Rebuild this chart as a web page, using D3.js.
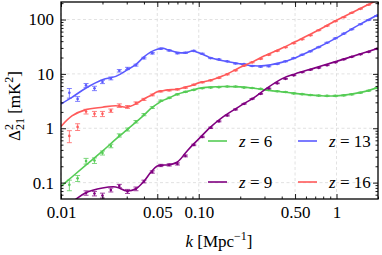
<!DOCTYPE html>
<html>
<head>
<meta charset="utf-8">
<script src="https://cdn.jsdelivr.net/npm/d3@7"></script>
<style>
  body { margin: 0; background: #fff; }
  svg { display: block; }
  text { font-family: "Liberation Serif", "Times New Roman", serif; fill: #000; }
</style>
</head>
<body>
<script>
let width = 382;
let height = 255;
let margin = {top: 2, right: 4, bottom: 56, left: 61};

// binned data points (k in Mpc^-1)
let kPoints = [0.0115, 0.0132, 0.0152, 0.0175, 0.020, 0.023, 0.0265, 0.0304, 0.035, 0.040,
               0.046, 0.053, 0.061, 0.070, 0.080, 0.092, 0.106, 0.122, 0.140, 0.161,
               0.185, 0.213, 0.244, 0.281, 0.322, 0.371, 0.426, 0.489, 0.562, 0.646,
               0.742, 0.853, 0.980, 1.13, 1.29, 1.49, 1.71, 1.96];

let z6Points = [0.091, 0.12, 0.249, 0.255, 0.352, 0.473, 0.739, 0.95, 1.32, 1.78,
                2.4, 3.2, 3.62, 4.2, 4.67, 5.08, 5.46, 5.6, 5.7, 5.85,
                5.85, 5.6, 5.5, 5.3, 5.08, 4.8, 4.64, 4.38, 4.24, 4.08,
                3.99, 3.94, 3.94, 4.03, 4.2, 4.5, 4.9, 5.5];
let z6Err = [0.02, 0.015, 0.03, 0.03, 0.03, 0.035, 0.05, 0.06, 0.07, 0.08,
             0.09, 0.1, 0.1, 0.1, 0.1, 0.1, 0.1, 0.1, 0.1, 0.1,
             0.1, 0.1, 0.1, 0.1, 0.1, 0.1, 0.1, 0.1, 0.1, 0.1,
             0.1, 0.1, 0.1, 0.1, 0.1, 0.1, 0.1, 0.1];

let z9Points = [0.03, 0.04, 0.0646, 0.063, 0.058, 0.0733, 0.087, 0.069, 0.077, 0.105,
                0.157, 0.207, 0.212, 0.221, 0.31, 0.494, 0.693, 1.02, 1.34, 1.72,
                2.22, 2.81, 3.47, 4.29, 5.42, 6.7, 8.1, 9.4, 10.7, 11.9,
                12.9, 14.4, 16.3, 18.5, 20.6, 22.9, 25.4, 28.9];
let z9Err = [0.005, 0.005, 0.006, 0.006, 0.006, 0.006, 0.006, 0.006, 0.006, 0.006,
             0.008, 0.01, 0.01, 0.01, 0.012, 0.015, 0.02, 0.03, 0.03, 0.04,
             0.05, 0.05, 0.06, 0.07, 0.08, 0.1, 0.1, 0.12, 0.12, 0.15,
             0.15, 0.2, 0.2, 0.25, 0.25, 0.3, 0.3, 0.35];

let z13Points = [4.48, 3.47, 6.15, 5.42, 7.13, 8.27, 11.4, 12.6, 14.5, 19.5,
                 24, 29, 27, 24, 24.5, 26.5, 23.5, 19.5, 18.5, 17,
                 15.5, 15.2, 14, 13.6, 13.8, 15.2, 17, 19.5, 22.5, 26,
                 31, 37.5, 45, 55, 66, 82, 98, 117];
let z13Err = [0.9, 0.35, 0.5, 0.5, 0.5, 0.5, 0.6, 0.6, 0.6, 0.7,
              0.8, 0.8, 0.7, 0.6, 0.6, 0.6, 0.5, 0.4, 0.35, 0.3,
              0.3, 0.3, 0.3, 0.3, 0.3, 0.3, 0.3, 0.35, 0.4, 0.45,
              0.5, 0.6, 0.7, 0.8, 1.0, 1.2, 1.4, 1.6];

let z16Points = [0.723, 1.06, 2.03, 1.84, 1.84, 2.11, 2.61, 2.47, 2.9, 3.4,
                 4.1, 4.8, 5.0, 5.2, 5.6, 6.3, 7.0, 7.6, 8.45, 9.8,
                 11.6, 14.1, 16.3, 18.9, 22.4, 26.5, 30.8, 36.5, 43.2, 51.2,
                 63.3, 76.5, 92.7, 110, 133, 157, 187, 221];
let z16Err = [0.18, 0.15, 0.2, 0.2, 0.2, 0.15, 0.2, 0.15, 0.15, 0.15,
              0.15, 0.15, 0.15, 0.15, 0.15, 0.15, 0.15, 0.15, 0.2, 0.2,
              0.2, 0.25, 0.3, 0.3, 0.35, 0.4, 0.4, 0.5, 0.6, 0.7,
              0.8, 1.0, 1.2, 1.4, 1.7, 2.0, 2.4, 2.8];

// model curves
let kLine = [0.01, 0.012, 0.015, 0.02, 0.025, 0.03, 0.035, 0.04, 0.045, 0.05,
             0.055, 0.06, 0.07, 0.08, 0.09, 0.1, 0.12, 0.15, 0.2, 0.25,
             0.3, 0.4, 0.5, 0.7, 1, 1.5, 2];
let z6Line = [0.085, 0.127, 0.206, 0.38, 0.63, 0.93, 1.30, 1.74, 2.32, 2.8,
              3.26, 3.55, 4.25, 4.67, 5.05, 5.41, 5.7, 5.85, 5.77, 5.46,
              5.08, 4.67, 4.38, 4.03, 3.94, 4.57, 5.6];
let z9Line = [0.035, 0.044, 0.0646, 0.0798, 0.0834, 0.0703, 0.077, 0.106, 0.157, 0.203,
              0.21, 0.212, 0.24, 0.35, 0.49, 0.637, 1.02, 1.62, 2.58, 3.62,
              5.08, 8.1, 10.0, 12.9, 17.0, 23.4, 29.5];
let z13Line = [2.8, 3.7, 5.4, 7.8, 9.0, 11.7, 15.0, 20.5, 25.4, 28.5,
               29.6, 27.7, 24.9, 24.4, 26.3, 24.4, 20.1, 17.4, 15.3, 14.1,
               14.2, 16.3, 19.7, 28.9, 46, 83, 122];
let z16Line = [1.08, 1.69, 2.18, 2.44, 2.6, 2.44, 2.81, 3.47, 4.03, 4.67,
               4.91, 5.08, 5.23, 5.7, 6.2, 6.84, 7.54, 9.2, 13.2, 17.0,
               21.5, 29.5, 38.9, 59.4, 96.7, 161, 230];

let xMajor = [0.01, 0.05, 0.1, 0.5, 1];
let xMajorLabels = ["0.01", "0.05", "0.10", "0.50", "1"];
let xMinor = [0.02, 0.03, 0.04, 0.06, 0.07, 0.08, 0.09, 0.2, 0.3, 0.4, 0.6, 0.7, 0.8, 0.9, 2];
let yMajor = [0.1, 1, 10, 100];
let yMajorLabels = ["0.1", "1", "10", "100"];
let yMinor = [0.06, 0.07, 0.08, 0.09, 0.2, 0.3, 0.4, 0.5, 0.6, 0.7, 0.8, 0.9,
              2, 3, 4, 5, 6, 7, 8, 9, 20, 30, 40, 50, 60, 70, 80, 90, 200];

let series = [
  {name: "6", color: "#55cc55", line: z6Line, pts: z6Points, err: z6Err},
  {name: "9", color: "#800080", line: z9Line, pts: z9Points, err: z9Err},
  {name: "13", color: "#5a5aff", line: z13Line, pts: z13Points, err: z13Err},
  {name: "16", color: "#ff5a5a", line: z16Line, pts: z16Points, err: z16Err}
];

//scales

let xScale = d3.scaleLog()
    .domain([0.01, 2])
    .range([margin.left, width - margin.right]);

let yScale = d3.scaleLog()
    .domain([0.05, 210])
    .range([height - margin.bottom, margin.top]);

let x0 = margin.left, x1 = width - margin.right;
let y0 = height - margin.bottom, y1 = margin.top;

//svg canvas

let svg = d3.select("body")
    .append("svg")
    .attr("width", width)
    .attr("height", height);

svg.append("clipPath")
    .attr("id", "plot")
  .append("rect")
    .attr("x", x0)
    .attr("y", y1)
    .attr("width", x1 - x0)
    .attr("height", y0 - y1);

//grid

let grid = svg.append("g")
    .attr("stroke", "#d9d9d9")
    .attr("stroke-width", 0.8)
    .attr("stroke-dasharray", "3,2.5");

grid.selectAll(".gx")
    .data(xMajor)
    .enter()
    .append("line")
    .attr("x1", d => xScale(d))
    .attr("x2", d => xScale(d))
    .attr("y1", y1)
    .attr("y2", y0);

grid.selectAll(".gy")
    .data(yMajor)
    .enter()
    .append("line")
    .attr("x1", x0)
    .attr("x2", x1)
    .attr("y1", d => yScale(d))
    .attr("y2", d => yScale(d));

//curves and error bars

let plot = svg.append("g").attr("clip-path", "url(#plot)");

let line = d3.line()
    .x(d => xScale(d[0]))
    .y(d => yScale(d[1]))
    .curve(d3.curveCatmullRom.alpha(0.5));

series.forEach(function(s) {
  let g = plot.append("g");

  g.append("path")
      .datum(kLine.map((k, i) => [k, s.line[i]]))
      .attr("fill", "none")
      .attr("stroke", s.color)
      .attr("stroke-width", 1.6)
      .attr("d", line);

  let pts = kPoints.map((k, i) => ({k: k, v: s.pts[i], e: s.err[i]}));

  let bars = g.selectAll(".bar")
      .data(pts)
      .enter()
      .append("g")
      .attr("stroke", s.color)
      .attr("stroke-width", 0.9)
      .attr("opacity", 0.85);

  bars.append("line")
      .attr("x1", d => xScale(d.k))
      .attr("x2", d => xScale(d.k))
      .attr("y1", d => yScale(Math.max(d.v - d.e, d.v * 0.05)))
      .attr("y2", d => yScale(d.v + d.e));

  [-1, 1].forEach(function(sgn) {
    bars.append("line")
        .attr("x1", d => xScale(d.k) - 2.5)
        .attr("x2", d => xScale(d.k) + 2.5)
        .attr("y1", d => yScale(sgn > 0 ? d.v + d.e : Math.max(d.v - d.e, d.v * 0.05)))
        .attr("y2", d => yScale(sgn > 0 ? d.v + d.e : Math.max(d.v - d.e, d.v * 0.05)));
  });

  g.selectAll(".dot")
      .data(pts)
      .enter()
      .append("circle")
      .attr("cx", d => xScale(d.k))
      .attr("cy", d => yScale(d.v))
      .attr("r", 1.3)
      .attr("fill", s.color);
});

//axes (ticks pointing inward)

function ticks(axisFn, values, size, labels, transform) {
  let ax = axisFn
      .tickValues(values)
      .tickSizeInner(-size)
      .tickSizeOuter(0)
      .tickPadding(7)
      .tickFormat(labels ? (d, i) => labels[i] : "");
  let g = svg.append("g")
      .attr("transform", transform)
      .call(ax);
  g.select(".domain").remove();
  g.selectAll(".tick line").attr("stroke", "#000").attr("stroke-width", 0.9);
  g.selectAll("text")
      .attr("font-family", "Liberation Serif")
      .attr("font-size", "17px")
      .attr("fill", "#000");
  return g;
}

ticks(d3.axisBottom(xScale), xMajor, 5, xMajorLabels, `translate(0,${y0})`);
ticks(d3.axisBottom(xScale), xMinor, 2.5, null, `translate(0,${y0})`);
ticks(d3.axisTop(xScale), xMajor, 5, null, `translate(0,${y1})`);
ticks(d3.axisTop(xScale), xMinor, 2.5, null, `translate(0,${y1})`);
ticks(d3.axisLeft(yScale), yMajor, 5, yMajorLabels, `translate(${x0},0)`);
ticks(d3.axisLeft(yScale), yMinor, 2.5, null, `translate(${x0},0)`);
ticks(d3.axisRight(yScale), yMajor, 5, null, `translate(${x1},0)`);
ticks(d3.axisRight(yScale), yMinor, 2.5, null, `translate(${x1},0)`);

//frame

svg.append("rect")
    .attr("x", x0)
    .attr("y", y1)
    .attr("width", x1 - x0)
    .attr("height", y0 - y1)
    .attr("fill", "none")
    .attr("stroke", "#000")
    .attr("stroke-width", 1.3);

//axis titles

let xt = svg.append("text")
    .attr("x", 219)
    .attr("y", 247)
    .attr("text-anchor", "middle")
    .attr("font-size", "17px");
xt.append("tspan").attr("font-style", "italic").text("k");
xt.append("tspan").text(" [Mpc");
xt.append("tspan").attr("font-size", "12px").attr("dy", -7).text("−1");
xt.append("tspan").attr("dy", 7).text("]");

let yt = svg.append("text")
    .attr("transform", "translate(20,106) rotate(-90)")
    .attr("text-anchor", "middle")
    .attr("font-size", "17px");
yt.append("tspan").text("Δ");
yt.append("tspan").attr("font-size", "12px").attr("dy", -7).text("2");
yt.append("tspan").attr("font-size", "12px").attr("dx", -6).attr("dy", 11).text("21");
yt.append("tspan").attr("dy", -4).text(" [mK");
yt.append("tspan").attr("font-size", "12px").attr("dy", -7).text("2");
yt.append("tspan").attr("dy", 7).text("]");

//legend

let legendPos = [
  {x: 208, y: 141}, {x: 208, y: 182}, {x: 298, y: 141}, {x: 298, y: 182}
];

let legend = svg.selectAll(".legend")
    .data(series)
    .enter()
    .append("g")
    .attr("transform", (d, i) => `translate(${legendPos[i].x},${legendPos[i].y})`);

legend.append("line")
    .attr("x1", 0)
    .attr("x2", 19)
    .attr("stroke", d => d.color)
    .attr("stroke-width", 1.6);

let lt = legend.append("text")
    .attr("x", 31)
    .attr("y", 5.5)
    .attr("font-size", "17px");
lt.append("tspan").attr("font-style", "italic").text("z");
lt.append("tspan").text(d => " = " + d.name);
</script>
</body>
</html>
